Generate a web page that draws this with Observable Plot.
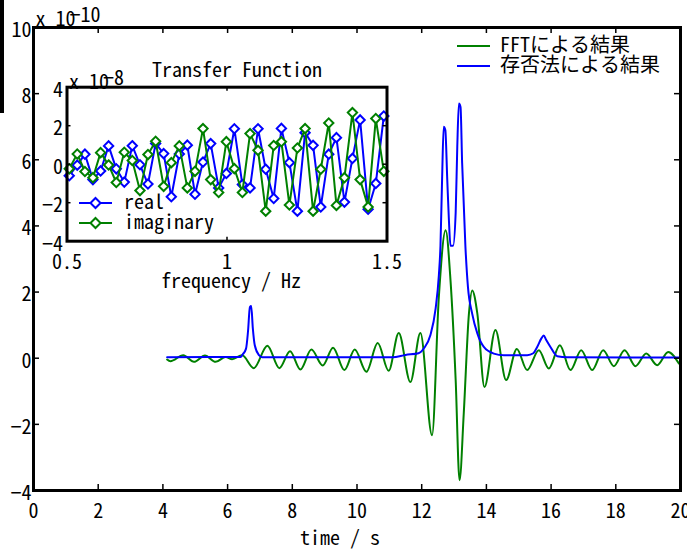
<!DOCTYPE html>
<html><head><meta charset="utf-8">
<script src="https://cdn.jsdelivr.net/npm/d3@7"></script>
<script src="https://cdn.jsdelivr.net/npm/@observablehq/plot@0.6"></script>
<style>
body{margin:0;background:#fff;}
#wrap{position:relative;width:687px;height:550px;overflow:hidden;background:#fff;}
#wrap > div, #wrap > svg{position:absolute;}
</style></head><body><div id="wrap"></div>
<script>
const FONT = '"Noto Sans Mono CJK JP","Noto Sans CJK JP",monospace';
const GREEN = "#008000", BLUE = "#0000ff";

// ---- main chart data (values x 10^-10) ----
const fftTime = [4.13,4.23,4.63,4.96,5.30,5.63,5.94,6.14,6.45,6.81,7.23,7.60,7.93,8.25,8.59,8.94,9.26,9.61,9.93,10.29,10.64,10.98,11.29,11.65,11.96,12.32,12.53,12.74,12.89,13.05,13.17,13.30,13.46,13.56,13.72,13.94,14.28,14.61,14.94,15.26,15.62,15.93,16.27,16.60,16.93,17.27,17.61,17.94,18.27,18.61,18.94,19.28,19.62,19.95];
const fftValue = [-0.04,-0.09,0.09,-0.11,0.08,-0.11,0.04,-0.03,0.09,-0.30,0.38,-0.30,0.21,-0.34,0.26,-0.22,0.32,-0.36,0.26,-0.41,0.46,-0.38,0.76,-0.72,0.76,-2.33,1.85,3.87,2.36,-0.66,-3.69,-1.67,1.35,2.05,1.35,-0.87,0.85,-0.66,0.28,-0.36,0.24,-0.31,0.39,-0.36,0.24,-0.36,0.24,-0.24,0.24,-0.24,0.14,-0.21,0.19,-0.16];
const existTime = [4.13,6.40,6.47,6.57,6.63,6.69,6.73,6.78,6.84,6.97,7.07,11.10,11.50,11.90,12.07,12.27,12.43,12.53,12.58,12.63,12.68,12.73,12.79,12.84,12.89,12.97,13.05,13.10,13.15,13.20,13.25,13.35,13.43,13.56,13.72,13.92,14.23,14.54,15.26,15.45,15.57,15.70,15.77,15.85,15.98,16.19,16.50,20.0];
const existValue = [0.03,0.04,0.12,0.29,0.80,1.55,1.58,0.90,0.39,0.09,0.03,0.03,0.10,0.15,0.30,0.70,1.50,2.50,3.40,5.40,7.00,6.90,5.40,4.20,3.40,3.40,4.40,6.40,7.70,7.60,5.90,3.40,2.15,1.35,0.75,0.34,0.14,0.09,0.09,0.15,0.34,0.60,0.69,0.55,0.34,0.06,0.03,0.02];
const mainXTicks = [0,2,4,6,8,10,12,14,16,18,20];
const mainYTicks = [-4,-2,0,2,4,6,8,10];
const legendLabels = ["FFTによる結果","存否法による結果"];

// ---- inset data (values x 10^-8) ----
const freq = [0.507,0.532,0.556,0.581,0.605,0.630,0.654,0.679,0.704,0.728,0.753,0.777,0.802,0.826,0.851,0.876,0.900,0.925,0.949,0.974,0.998,1.023,1.048,1.072,1.097,1.121,1.146,1.170,1.195,1.220,1.244,1.269,1.293,1.318,1.342,1.367,1.392,1.416,1.441,1.465,1.490];
const realPart = [-0.60,-0.05,0.52,-0.80,-0.35,0.95,-0.24,-0.93,0.96,-0.03,-1.03,1.08,0.55,-1.69,0.53,0.99,-1.56,0.11,1.07,-1.23,-0.48,1.84,-1.06,-1.23,1.84,-0.26,-1.78,1.86,0.08,-2.44,1.64,0.98,-2.22,0.52,1.38,-1.97,0.30,2.30,-2.34,-1.00,2.50];
const imagPart = [-0.24,0.53,-0.38,-0.70,0.60,-0.04,-0.95,0.62,0.19,-1.37,0.50,1.19,-1.15,0.08,0.95,-1.23,-0.37,1.85,-0.80,-1.47,1.17,-0.23,-1.47,1.59,0.72,-2.44,0.97,1.17,-2.12,0.84,1.85,-2.44,-0.26,2.14,-2.14,-0.70,2.68,-0.80,-2.22,2.37,-0.37];
const insetXTicks = [0.5,1,1.5];
const insetYTicks = [-4,-2,0,2,4];
const insetLegend = ["real","imaginary"];

const fmt = d => String(d).replace("-", "\u2212");
const wrap = document.getElementById("wrap");

// ---- main plot ----
const fft = fftTime.map((t,i)=>({t, v: fftValue[i]}));
const exist = existTime.map((t,i)=>({t, v: existValue[i]}));
const W=687,H=550,mL=33,mR=7,mT=27,mB=60;
const pw=W-mL-mR, ph=H-mT-mB;
const main = Plot.plot({
  width:W, height:H, marginLeft:mL, marginRight:mR, marginTop:mT, marginBottom:mB,
  style:{fontFamily:FONT, fontSize:"20px", background:"white", color:"black", overflow:"visible"},
  x:{domain:[0,20], axis:null}, y:{domain:[-4,10], axis:null},
  marks:[
    Plot.line(fft, {x:"t", y:"v", stroke:GREEN, strokeWidth:2, curve:"monotone-x"}),
    Plot.line(exist, {x:"t", y:"v", stroke:BLUE, strokeWidth:2, curve:"monotone-x"}),
    Plot.tickX(mainXTicks, {x:d=>d, insetTop:ph-6, stroke:"black", strokeWidth:1.5}),
    Plot.tickX(mainXTicks, {x:d=>d, insetBottom:ph-6, stroke:"black", strokeWidth:1.5}),
    Plot.tickY(mainYTicks, {y:d=>d, insetRight:pw-6, stroke:"black", strokeWidth:1.5}),
    Plot.tickY(mainYTicks, {y:d=>d, insetLeft:pw-6, stroke:"black", strokeWidth:1.5}),
    Plot.frame({stroke:"black", strokeWidth:3}),
    Plot.axisX(mainXTicks, {anchor:"bottom", tickSize:0, tickPadding:13, label:null, tickFormat:fmt}),
    Plot.axisY(mainYTicks, {anchor:"left", tickSize:0, tickPadding:2, dy:3, label:null, tickFormat:fmt}),
    Plot.text(["time / s"], {frameAnchor:"bottom", lineAnchor:"middle", dy:48, dx:-17}),
    Plot.text(["x 10"], {frameAnchor:"top-left", textAnchor:"start", lineAnchor:"bottom", dx:2, dy:-2}),
    Plot.text(["\u221210"], {frameAnchor:"top-left", textAnchor:"start", lineAnchor:"bottom", dx:36, dy:-6})
  ]
});
const mdiv = document.createElement("div"); mdiv.style.left="0px"; mdiv.style.top="0px";
mdiv.appendChild(main); wrap.appendChild(mdiv);

// ---- inset plot ----
const insetRows = freq.map((f,i)=>({f, re: realPart[i], im: imagPart[i]}));
const IW=360, IH=240, iL=30.5, iT=31.7, iR=9.5, iB=54.3;
const ipw=IW-iL-iR, iph=IH-iT-iB;
const inset = Plot.plot({
  width:IW, height:IH, marginLeft:iL, marginRight:iR, marginTop:iT, marginBottom:iB,
  style:{fontFamily:FONT, fontSize:"20px", background:"transparent", color:"black", overflow:"visible"},
  x:{domain:[0.5,1.5], axis:null}, y:{domain:[-4,4], axis:null},
  marks:[
    Plot.frame({fill:"white"}),
    Plot.line(insetRows, {x:"f", y:"re", stroke:BLUE, strokeWidth:2}),
    Plot.dot(insetRows, {x:"f", y:"re", symbol:"diamond2", r:4.2, stroke:BLUE, fill:"white", strokeWidth:2}),
    Plot.line(insetRows, {x:"f", y:"im", stroke:GREEN, strokeWidth:2}),
    Plot.dot(insetRows, {x:"f", y:"im", symbol:"diamond2", r:4.2, stroke:GREEN, fill:"white", strokeWidth:2}),
    Plot.tickX(insetXTicks, {x:d=>d, insetTop:iph-4, stroke:"black", strokeWidth:1.5}),
    Plot.tickX(insetXTicks, {x:d=>d, insetBottom:iph-4, stroke:"black", strokeWidth:1.5}),
    Plot.tickY(insetYTicks, {y:d=>d, insetRight:ipw-4, stroke:"black", strokeWidth:1.5}),
    Plot.tickY(insetYTicks, {y:d=>d, insetLeft:ipw-4, stroke:"black", strokeWidth:1.5}),
    Plot.frame({stroke:"black", strokeWidth:3}),
    Plot.axisX(insetXTicks, {anchor:"bottom", tickSize:0, tickPadding:14, label:null, tickFormat:fmt}),
    Plot.axisY(insetYTicks, {anchor:"left", tickSize:0, tickPadding:4, dy:3, label:null, tickFormat:fmt}),
    Plot.text(["Transfer Function"], {frameAnchor:"top", lineAnchor:"middle", dy:-17, dx:10}),
    Plot.text(["frequency / Hz"], {frameAnchor:"bottom", lineAnchor:"middle", dy:40, dx:4}),
    Plot.text(["x 10"], {frameAnchor:"top-left", textAnchor:"start", lineAnchor:"bottom", dx:2, dy:2}),
    Plot.text(["\u22128"], {frameAnchor:"top-left", textAnchor:"start", lineAnchor:"bottom", dx:36, dy:-2})
  ]
});
const idiv = document.createElement("div"); idiv.style.left="36px"; idiv.style.top="55px";
idiv.appendChild(inset); wrap.appendChild(idiv);

// ---- legends overlay ----
const svg = d3.select(wrap).append("svg").attr("width",W).attr("height",H)
  .style("left","0px").style("top","0px").style("font-family",FONT).style("font-size","20px");
const mainLeg = [{c:GREEN, y:46}, {c:BLUE, y:66}];
mainLeg.forEach((d,i)=>{
  svg.append("line").attr("x1",457).attr("x2",490).attr("y1",d.y).attr("y2",d.y).attr("stroke",d.c).attr("stroke-width",2);
  svg.append("text").attr("x",500).attr("y",d.y+1).attr("dominant-baseline","middle").text(legendLabels[i]);
});
const insLeg = [{c:BLUE, y:203}, {c:GREEN, y:223}];
insLeg.forEach((d,i)=>{
  svg.append("line").attr("x1",79).attr("x2",112).attr("y1",d.y).attr("y2",d.y).attr("stroke",d.c).attr("stroke-width",2);
  const cx=95.5, r=4.2;
  svg.append("path").attr("d",`M${cx},${d.y-r*1.2}L${cx+r*1.2},${d.y}L${cx},${d.y+r*1.2}L${cx-r*1.2},${d.y}Z`)
    .attr("fill","white").attr("stroke",d.c).attr("stroke-width",2);
  svg.append("text").attr("x",124).attr("y",d.y+1).attr("dominant-baseline","middle").text(insetLegend[i]);
});

// left-edge black bar seen in the reference image
const bar = document.createElement("div");
bar.style.cssText="left:0px;top:0px;width:4px;height:113px;background:#000;";
wrap.appendChild(bar);
</script></body></html>
